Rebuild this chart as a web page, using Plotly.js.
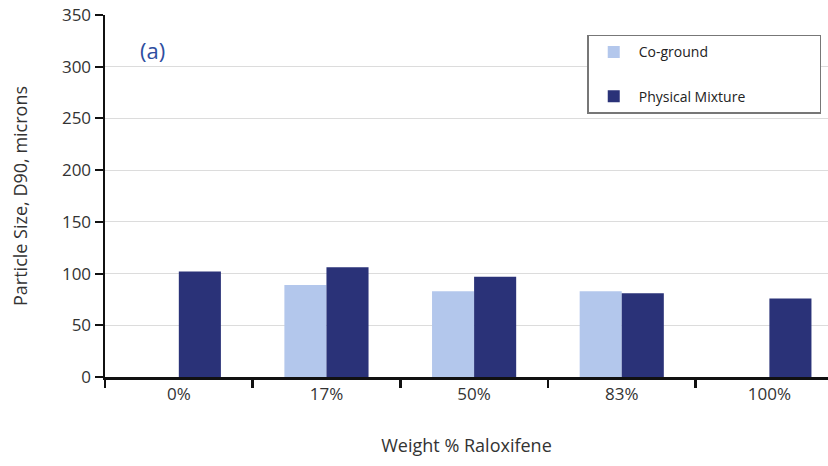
<!DOCTYPE html>
<html>
<head>
<meta charset="utf-8">
<script src="https://cdn.plot.ly/plotly-3.0.1.min.js"></script>
<style>html,body{margin:0;padding:0;background:#fff;}#chart{width:828px;height:466px;}</style>
</head>
<body>
<div id="chart"></div>
<script>
const categories = ["0%", "17%", "50%", "83%", "100%"];
const coGround = [null, 89, 83, 83, null];
const physicalMixture = [102, 106, 97, 81, 76];
const yTicks = [0, 50, 100, 150, 200, 250, 300, 350];

const fontFam = "'Open Sans', 'Liberation Sans', sans-serif";
const pad = "\u00a0".repeat(19);

const traces = [
  {type: "bar", name: "Co-ground" + pad, x: categories, y: coGround,
   marker: {color: "#b3c7ec"}, legendgroup: "a"},
  {type: "bar", name: "Physical Mixture" + pad, x: categories, y: physicalMixture,
   marker: {color: "#2a3278"}, legendgroup: "b"}
];

const layout = {
  width: 828, height: 466,
  margin: {l: 105, r: 0, t: 15, b: 89},
  paper_bgcolor: "#fff", plot_bgcolor: "#fff",
  barmode: "group", bargap: 0.43, bargroupgap: 0,
  font: {family: fontFam, color: "#333"},
  xaxis: {
    type: "category", range: [-0.5, 4.397],
    showline: true, linecolor: "#111", linewidth: 2.5,
    ticks: "outside", tickson: "boundaries", ticklen: 8, tickwidth: 2.5, tickcolor: "#111",
    tickfont: {size: 17, color: "#333"},
    title: {text: "Weight % Raloxifene", font: {size: 18, color: "#333"}, standoff: 36},
    showgrid: false, zeroline: false, fixedrange: true
  },
  yaxis: {
    range: [0, 350], tickvals: yTicks,
    showline: true, linecolor: "#111", linewidth: 2.5,
    ticks: "outside", ticklen: 8, tickwidth: 2, tickcolor: "#111",
    tickfont: {size: 17, color: "#333"},
    showgrid: true, gridcolor: "#dcdcdc", gridwidth: 1.2,
    zeroline: false,
    title: {text: "Particle Size, D90, microns", font: {size: 18, color: "#333"}, standoff: 30}
  },
  legend: {
    x: 0.667, y: 0.945, xanchor: "left", yanchor: "top",
    bordercolor: "#777", borderwidth: 1.5, bgcolor: "#fff",
    font: {size: 14, color: "#222"},
    traceorder: "grouped", tracegroupgap: 23,
    itemwidth: 40
  },
  annotations: [{
    text: "(a)", xref: "paper", yref: "paper", x: 0.066, y: 0.903,
    xanchor: "center", yanchor: "middle", showarrow: false,
    font: {size: 22, color: "#2e4ea0", family: fontFam}
  }]
};

Plotly.newPlot("chart", traces, layout, {displayModeBar: false, staticPlot: true});
</script>
</body>
</html>
